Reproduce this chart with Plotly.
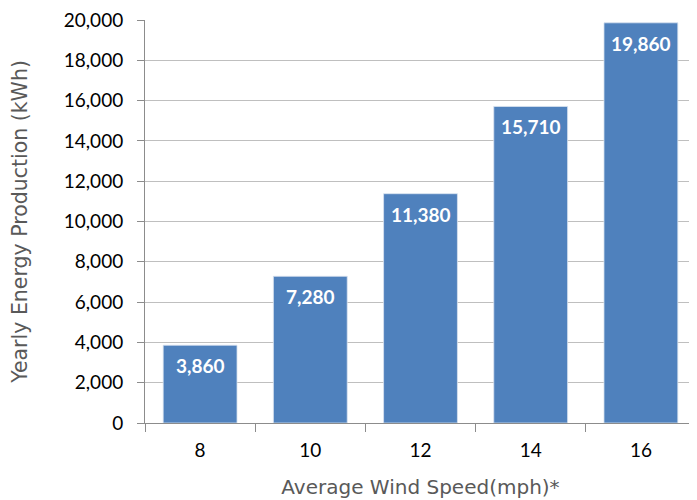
import plotly.graph_objects as go

wind_speed = ["8", "10", "12", "14", "16"]
production = [3860, 7280, 11380, 15710, 19860]
y_ticks = [0, 2000, 4000, 6000, 8000, 10000, 12000, 14000, 16000, 18000, 20000]

fig = go.Figure(go.Bar(
    x=wind_speed, y=production,
    marker=dict(color="#4F81BD", line=dict(color="#D9E3F0", width=0.8)),
    hoverinfo="x+y",
))

# value labels inside the top of each bar (category axis uses serial index)
for i, yv in enumerate(production):
    fig.add_annotation(
        x=i, y=yv, xref="x", yref="y", text=f"{yv:,}",
        showarrow=False, yanchor="top", yshift=-7,
        font=dict(family="Lato", size=19, color="white", weight="bold"),
    )

fig.update_layout(
    width=689, height=492,
    margin=dict(l=137, r=1, t=12, b=77, autoexpand=False),
    plot_bgcolor="white", paper_bgcolor="white",
    bargap=0.33, showlegend=False,
    font=dict(family="Lato", size=18, color="black"),
)
fig.update_xaxes(
    type="category", categoryorder="array", categoryarray=wind_speed,
    range=[-0.5, len(wind_speed) - 0.5],
    tickson="boundaries", ticks="outside", ticklen=8,
    tickcolor="#8C8C8C", showline=True, linecolor="#8C8C8C", linewidth=1,
    showgrid=False, automargin=False,
    tickfont=dict(family="Lato", size=19, color="black"),
    ticklabelstandoff=10,
    title=dict(text="Average Wind Speed(mph)*", standoff=20,
               font=dict(family="DejaVu Sans", size=20, color="#595959")),
)
fig.update_yaxes(
    range=[0, 20000], tickvals=y_ticks, tickformat=",d",
    ticks="outside", ticklen=7, tickcolor="#8C8C8C",
    showline=True, linecolor="#8C8C8C", linewidth=1,
    showgrid=True, gridcolor="#BFBFBF", gridwidth=1, automargin=False,
    tickfont=dict(family="Lato", size=19, color="black"),
    ticklabelstandoff=10, ticklabeloverflow="allow",
    title=dict(text="Yearly Energy Production (kWh)", standoff=34,
               font=dict(family="DejaVu Sans", size=20.5, color="#595959")),
)

fig.write_html("out.html")
